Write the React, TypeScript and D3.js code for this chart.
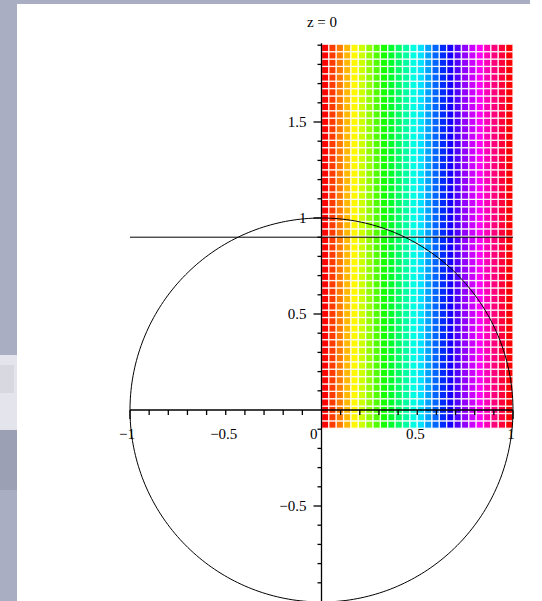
import React, { useEffect, useRef } from 'react';
import * as d3 from 'd3';

// hue of each grid column, left (x = 0) to right (x = 1)
const columnHues = [0, 14, 29, 43, 58, 72, 86, 101, 115, 130, 144, 158, 173, 187, 202, 216, 230, 245, 259, 274, 288, 302, 317, 331, 346, 360];
const rowCount = 52;
const gridY = [-0.095, 1.905];

const xTicks = [-1, -0.9, -0.8, -0.7, -0.6, -0.5, -0.4, -0.3, -0.2, -0.1, 0.1, 0.2, 0.3, 0.4, 0.5, 0.6, 0.7, 0.8, 0.9, 1];
const xLabels = [-1, -0.5, 0.5, 1];
const yTicks = [-1, -0.9, -0.8, -0.7, -0.6, -0.5, -0.4, -0.3, -0.2, -0.1, 0.1, 0.2, 0.3, 0.4, 0.5, 0.6, 0.7, 0.8, 0.9, 1, 1.1, 1.2, 1.3, 1.4, 1.5, 1.6, 1.7, 1.8, 1.9];
const yLabels = [1.5, 1, 0.5, -0.5];
const lineY = 0.9;

function App() {
    const chartRef = useRef(null);

    useEffect(() => {
        const svg = d3.select(chartRef.current);
        svg.selectAll('*').remove();

        // screenshot surroundings
        svg.append('rect').attr('width', 542).attr('height', 601).attr('fill', '#ffffff');
        svg.append('rect').attr('width', 17).attr('height', 601).attr('fill', '#a9aec2');
        svg.append('rect').attr('width', 530).attr('height', 4).attr('fill', '#a9aec2');
        svg.append('rect').attr('y', 355).attr('width', 17).attr('height', 75).attr('fill', '#e4e5ec');
        svg.append('rect').attr('y', 430).attr('width', 17).attr('height', 60).attr('fill', '#9ba0b4');
        svg.append('rect').attr('y', 365).attr('width', 14).attr('height', 28).attr('fill', '#d8d9e0');

        const x = d3.scaleLinear().domain([-1, 1]).range([130, 513]);
        const y = d3.scaleLinear().domain([0, 1]).range([410, 218]);

        // coloured grid
        const colW = 1 / columnHues.length;
        const rowH = (gridY[1] - gridY[0]) / rowCount;
        const cells = [];
        columnHues.forEach((h, i) => {
            d3.range(rowCount).forEach(j => {
                cells.push({ x0: i * colW, y0: gridY[0] + j * rowH, hue: h });
            });
        });
        svg.append('g')
            .selectAll('rect')
            .data(cells)
            .enter()
            .append('rect')
            .attr('x', d => x(d.x0))
            .attr('y', d => y(d.y0 + rowH))
            .attr('width', x(colW) - x(0))
            .attr('height', y(0) - y(rowH))
            .attr('fill', d => d3.hsl(d.hue % 360, 1, 0.5).toString())
            .attr('stroke', '#ffffff')
            .attr('stroke-opacity', 0.85)
            .attr('stroke-width', 1.3);

        // unit circle
        const circle = d3.line()
            .x(d => x(Math.cos(d)))
            .y(d => y(Math.sin(d)));
        svg.append('path')
            .attr('d', circle(d3.range(0, 2 * Math.PI + 0.01, 0.02)))
            .attr('fill', 'none')
            .attr('stroke', '#000')
            .attr('stroke-width', 1);

        // horizontal line
        svg.append('line')
            .attr('x1', x(-1)).attr('x2', x(1))
            .attr('y1', y(lineY)).attr('y2', y(lineY))
            .attr('stroke', '#000');

        // axes
        const axes = svg.append('g').attr('stroke', '#000').attr('stroke-width', 1.3);
        axes.append('line').attr('x1', x(-1)).attr('x2', x(1)).attr('y1', y(0)).attr('y2', y(0));
        axes.append('line').attr('x1', x(0)).attr('x2', x(0)).attr('y1', y(-1.05)).attr('y2', y(1.91));
        axes.selectAll('.xt').data(xTicks).enter().append('line')
            .attr('x1', d => x(d)).attr('x2', d => x(d))
            .attr('y1', y(0)).attr('y2', d => y(0) + (Math.abs(d) === 1 ? 9 : 5));
        axes.selectAll('.yt').data(yTicks).enter().append('line')
            .attr('y1', d => y(d)).attr('y2', d => y(d))
            .attr('x1', x(0)).attr('x2', d => x(0) - (d % 0.5 === 0 ? 8 : 4));

        const fmt = d => (d < 0 ? '\u2212' : '') + Math.abs(d);
        const font = '"Liberation Serif", serif';
        svg.selectAll('.xl').data(xLabels).enter().append('text')
            .attr('x', d => x(d) + (d === -1 ? -3 : -2))
            .attr('y', y(0) + 29)
            .attr('text-anchor', 'middle')
            .attr('font-family', font).attr('font-size', 15)
            .text(fmt);
        svg.selectAll('.yl').data(yLabels).enter().append('text')
            .attr('x', x(0) - 15)
            .attr('y', d => y(d) + 5)
            .attr('text-anchor', 'end')
            .attr('font-family', font).attr('font-size', 15)
            .text(fmt);
        svg.append('text')
            .attr('x', x(0) - 4).attr('y', y(0) + 29)
            .attr('text-anchor', 'end')
            .attr('font-family', font).attr('font-size', 15)
            .text('0');

        svg.append('text')
            .attr('x', 322).attr('y', 27)
            .attr('text-anchor', 'middle')
            .attr('font-family', font).attr('font-size', 15)
            .text('z = 0');
    }, []);

    return <svg ref={chartRef} width={542} height={601} style={{ position: 'absolute', left: 0, top: 0 }}></svg>;
}

export default App;
